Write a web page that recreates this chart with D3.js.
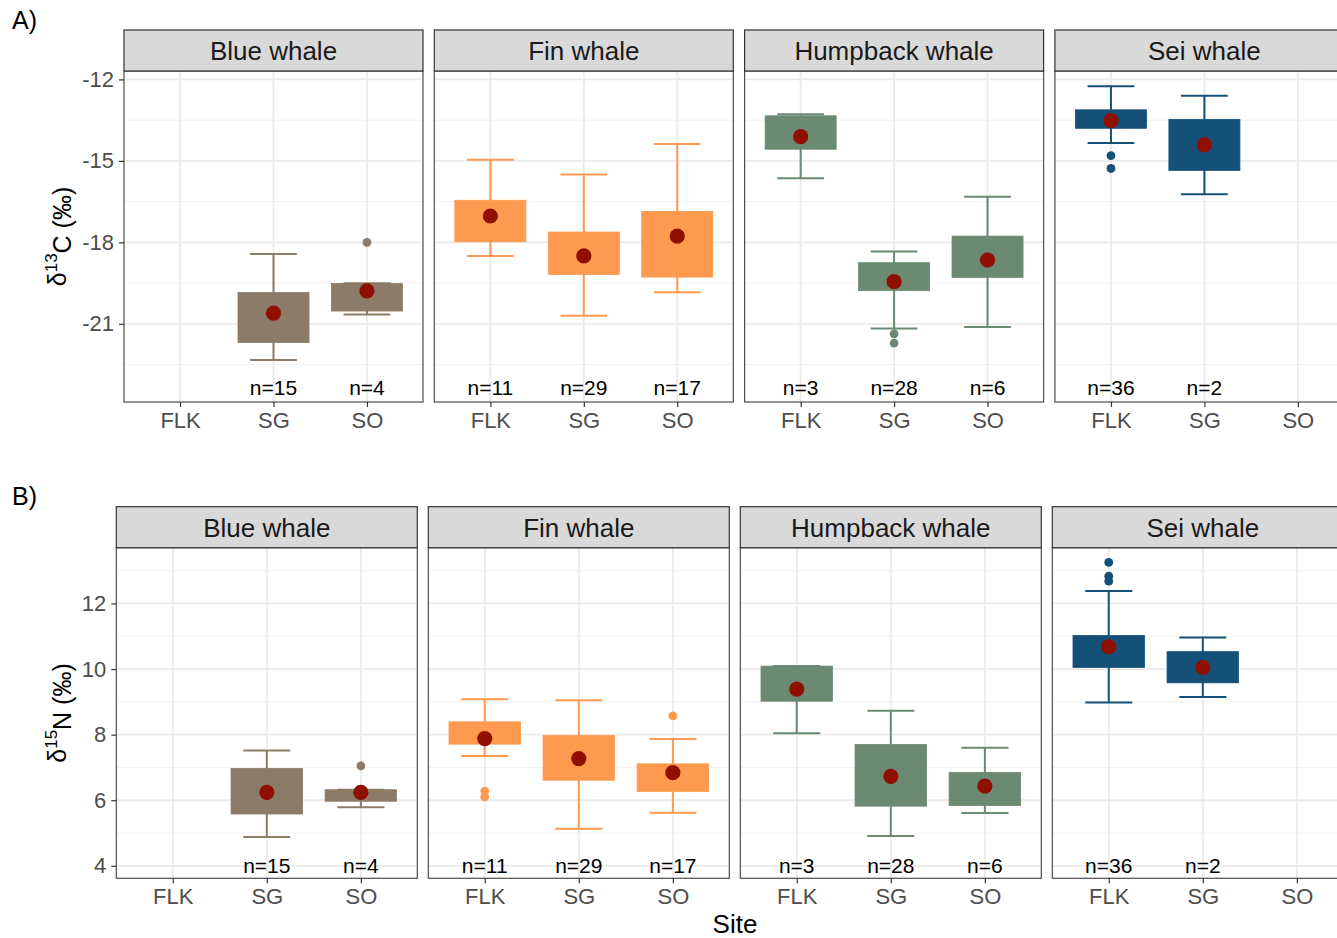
<!DOCTYPE html>
<html>
<head>
<meta charset="utf-8">
<script src="https://cdn.jsdelivr.net/npm/d3@7"></script>
<style>
  html, body { margin: 0; padding: 0; background: #ffffff; }
  svg { display: block; font-family: "Liberation Sans", Arial, Helvetica, sans-serif; }
</style>
</head>
<body>
<svg id="chart" width="1337" height="938"></svg>
<script>
// Facet and category definitions
const species = ["Blue whale", "Fin whale", "Humpback whale", "Sei whale"];
const sites = ["FLK", "SG", "SO"];
const speciesColors = ["#8c7b68", "#fe9a4f", "#6b8a71", "#155078"];
const meanColor = "#8f1000";

// One entry per species/site group that has samples
const groupSpecies = ["Blue whale", "Blue whale", "Fin whale", "Fin whale", "Fin whale",
  "Humpback whale", "Humpback whale", "Humpback whale", "Sei whale", "Sei whale"];
const groupSite = ["SG", "SO", "FLK", "SG", "SO", "FLK", "SG", "SO", "FLK", "SG"];
const groupN = [15, 4, 11, 29, 17, 3, 28, 6, 36, 2];

// δ13C summaries (‰)
const carbonLow  = [-22.33, -20.66, -18.50, -20.70, -19.84, -15.64, -21.17, -21.12, -14.34, -16.23];
const carbonQ1   = [-21.69, -20.53, -17.98, -19.18, -19.28, -14.57, -19.78, -19.29, -13.80, -15.35];
const carbonQ3   = [-19.85, -19.51, -16.45, -17.62, -16.86, -13.34, -18.75, -17.77, -13.12, -13.47];
const carbonHigh = [-18.43, -19.51, -14.96, -15.50, -14.38, -13.28, -18.34, -16.32, -12.25, -12.60];
const carbonMean = [-20.61, -19.79, -17.03, -18.50, -17.77, -14.11, -19.45, -18.65, -13.52, -14.41];
const carbonOutliers = [
  ["Blue whale", "SO", -18.0],
  ["Humpback whale", "SG", -21.37], ["Humpback whale", "SG", -21.71],
  ["Sei whale", "FLK", -14.81], ["Sei whale", "FLK", -15.28]
];
const carbonTicks = [-21, -18, -15, -12];
const carbonMinor = [-22.5, -19.5, -16.5, -13.5];
const carbonDomain = [-23.88, -11.69];
const carbonCountY = -23.36;

// δ15N summaries (‰)
const nitrogenLow  = [4.88, 5.79, 7.35, 5.13, 5.62, 8.04, 4.91, 5.61, 8.98, 9.15];
const nitrogenQ1   = [5.58, 5.97, 7.71, 6.61, 6.27, 9.02, 5.82, 5.84, 10.05, 9.58];
const nitrogenQ3   = [6.97, 6.32, 8.39, 7.98, 7.11, 10.09, 7.70, 6.85, 11.02, 10.53];
const nitrogenHigh = [7.52, 6.32, 9.08, 9.05, 7.87, 10.09, 8.73, 7.60, 12.38, 10.96];
const nitrogenMean = [6.24, 6.24, 7.88, 7.27, 6.84, 9.39, 6.73, 6.43, 10.68, 10.05];
const nitrogenOutliers = [
  ["Blue whale", "SO", 7.05],
  ["Fin whale", "FLK", 6.28], ["Fin whale", "FLK", 6.10],
  ["Fin whale", "SO", 8.57],
  ["Sei whale", "FLK", 13.25], ["Sei whale", "FLK", 12.83], ["Sei whale", "FLK", 12.68]
];
const nitrogenTicks = [4, 6, 8, 10, 12];
const nitrogenMinor = [5, 7, 9, 11, 13];
const nitrogenDomain = [3.62, 13.70];
const nitrogenCountY = 4.02;

const svg = d3.select("#chart");

function buildGroups(low, q1, q3, high, mean) {
  return groupSpecies.map((s, i) => ({
    species: s, site: groupSite[i], n: groupN[i],
    low: low[i], q1: q1[i], q3: q3[i], high: high[i], mean: mean[i]
  }));
}

const rows = [
  {
    tag: "A)", tagY: 29,
    isotope: "13", element: "C",
    groups: buildGroups(carbonLow, carbonQ1, carbonQ3, carbonHigh, carbonMean),
    outliers: carbonOutliers, ticks: carbonTicks, minor: carbonMinor,
    domain: carbonDomain, countY: carbonCountY,
    left: 124, panelW: 299, step: 310.3,
    stripTop: 30, top: 71, bottom: 402
  },
  {
    tag: "B)", tagY: 505,
    isotope: "15", element: "N",
    groups: buildGroups(nitrogenLow, nitrogenQ1, nitrogenQ3, nitrogenHigh, nitrogenMean),
    outliers: nitrogenOutliers, ticks: nitrogenTicks, minor: nitrogenMinor,
    domain: nitrogenDomain, countY: nitrogenCountY,
    left: 116.3, panelW: 301, step: 312,
    stripTop: 506.7, top: 547.7, bottom: 878.3
  }
];

rows.forEach(row => {
  const y = d3.scaleLinear().domain(row.domain).range([row.bottom, row.top]);

  // Panel tag
  svg.append("text")
    .attr("x", 12).attr("y", row.tagY)
    .attr("font-size", 25).attr("fill", "#000")
    .text(row.tag);

  // Y-axis title with superscript mass number
  const title = svg.append("text")
    .attr("transform", `translate(57.5,${(row.top + row.bottom) / 2}) rotate(-90)`)
    .attr("text-anchor", "middle")
    .attr("dy", "0.35em")
    .attr("font-size", 25).attr("fill", "#000");
  title.append("tspan").text("δ");
  title.append("tspan").attr("font-size", 17).attr("dy", "-0.55em").text(row.isotope);
  title.append("tspan").attr("dy", "0.55em").attr("font-size", 25).text(row.element + " (‰)");

  species.forEach((sp, si) => {
    const x0 = row.left + si * row.step;
    const x = d3.scalePoint().domain(sites).range([x0, x0 + row.panelW]).padding(0.6);
    const unit = x.step();
    const g = svg.append("g");

    // Background and grid
    g.append("rect")
      .attr("x", x0).attr("y", row.top)
      .attr("width", row.panelW).attr("height", row.bottom - row.top)
      .attr("fill", "#fff");
    g.selectAll(".minor").data(row.minor).enter().append("line")
      .attr("x1", x0).attr("x2", x0 + row.panelW)
      .attr("y1", d => y(d)).attr("y2", d => y(d))
      .attr("stroke", "#f2f2f2").attr("stroke-width", 1);
    g.selectAll(".major").data(row.ticks).enter().append("line")
      .attr("x1", x0).attr("x2", x0 + row.panelW)
      .attr("y1", d => y(d)).attr("y2", d => y(d))
      .attr("stroke", "#ebebeb").attr("stroke-width", 1.8);
    g.selectAll(".vmajor").data(sites).enter().append("line")
      .attr("x1", d => x(d)).attr("x2", d => x(d))
      .attr("y1", row.top).attr("y2", row.bottom)
      .attr("stroke", "#ebebeb").attr("stroke-width", 1.8);

    const color = speciesColors[si];
    const data = row.groups.filter(d => d.species === sp);

    // Whiskers with caps
    data.forEach(d => {
      const cx = x(d.site);
      g.append("line").attr("x1", cx).attr("x2", cx)
        .attr("y1", y(d.low)).attr("y2", y(d.high))
        .attr("stroke", color).attr("stroke-width", 2);
      [d.low, d.high].forEach(v => {
        g.append("line")
          .attr("x1", cx - unit * 0.25).attr("x2", cx + unit * 0.25)
          .attr("y1", y(v)).attr("y2", y(v))
          .attr("stroke", color).attr("stroke-width", 2);
      });
    });

    // Boxes (interquartile range)
    g.selectAll(".box").data(data).enter().append("rect")
      .attr("x", d => x(d.site) - unit * 0.38)
      .attr("width", unit * 0.76)
      .attr("y", d => y(d.q3))
      .attr("height", d => y(d.q1) - y(d.q3))
      .attr("fill", color).attr("stroke", color).attr("stroke-width", 0.8);

    // Outliers
    g.selectAll(".out").data(row.outliers.filter(o => o[0] === sp)).enter().append("circle")
      .attr("cx", d => x(d[1])).attr("cy", d => y(d[2]))
      .attr("r", 4.4).attr("fill", color);

    // Group means
    g.selectAll(".mean").data(data).enter().append("circle")
      .attr("cx", d => x(d.site)).attr("cy", d => y(d.mean))
      .attr("r", 7.6).attr("fill", meanColor);

    // Sample sizes
    g.selectAll(".count").data(data).enter().append("text")
      .attr("x", d => x(d.site)).attr("y", y(row.countY))
      .attr("dy", "0.36em")
      .attr("text-anchor", "middle")
      .attr("font-size", 21).attr("fill", "#000")
      .text(d => "n=" + d.n);

    // Panel border
    g.append("rect")
      .attr("x", x0).attr("y", row.top)
      .attr("width", row.panelW).attr("height", row.bottom - row.top)
      .attr("fill", "none").attr("stroke", "#4d4d4d").attr("stroke-width", 1.2);

    // Facet strip
    g.append("rect")
      .attr("x", x0).attr("y", row.stripTop)
      .attr("width", row.panelW).attr("height", row.top - row.stripTop)
      .attr("fill", "#d9d9d9").attr("stroke", "#333").attr("stroke-width", 1.2);
    g.append("text")
      .attr("x", x0 + row.panelW / 2).attr("y", (row.stripTop + row.top) / 2)
      .attr("dy", "0.36em").attr("text-anchor", "middle")
      .attr("font-size", 26).attr("fill", "#1a1a1a")
      .text(sp);

    // X axis
    const xAxis = svg.append("g")
      .attr("transform", `translate(0,${row.bottom})`)
      .call(d3.axisBottom(x).tickSize(5).tickPadding(5));
    xAxis.select(".domain").remove();
    xAxis.selectAll(".tick line").attr("stroke", "#333").attr("stroke-width", 1.2);
    xAxis.selectAll(".tick text").attr("font-size", 22).attr("fill", "#4d4d4d")
      .attr("font-family", "Liberation Sans, Arial, sans-serif");

    // Y axis on first panel only (plain hyphen-minus for negatives)
    if (si === 0) {
      const yAxis = svg.append("g")
        .attr("transform", `translate(${x0},0)`)
        .call(d3.axisLeft(y).tickValues(row.ticks).tickFormat(d => String(d))
          .tickSize(5).tickPadding(5));
      yAxis.select(".domain").remove();
      yAxis.selectAll(".tick line").attr("stroke", "#333").attr("stroke-width", 1.2);
      yAxis.selectAll(".tick text").attr("font-size", 22).attr("fill", "#4d4d4d")
        .attr("font-family", "Liberation Sans, Arial, sans-serif");
    }
  });
});

// Shared x-axis title
svg.append("text")
  .attr("x", 735).attr("y", 933)
  .attr("text-anchor", "middle")
  .attr("font-size", 26).attr("fill", "#000")
  .text("Site");
</script>
</body>
</html>
